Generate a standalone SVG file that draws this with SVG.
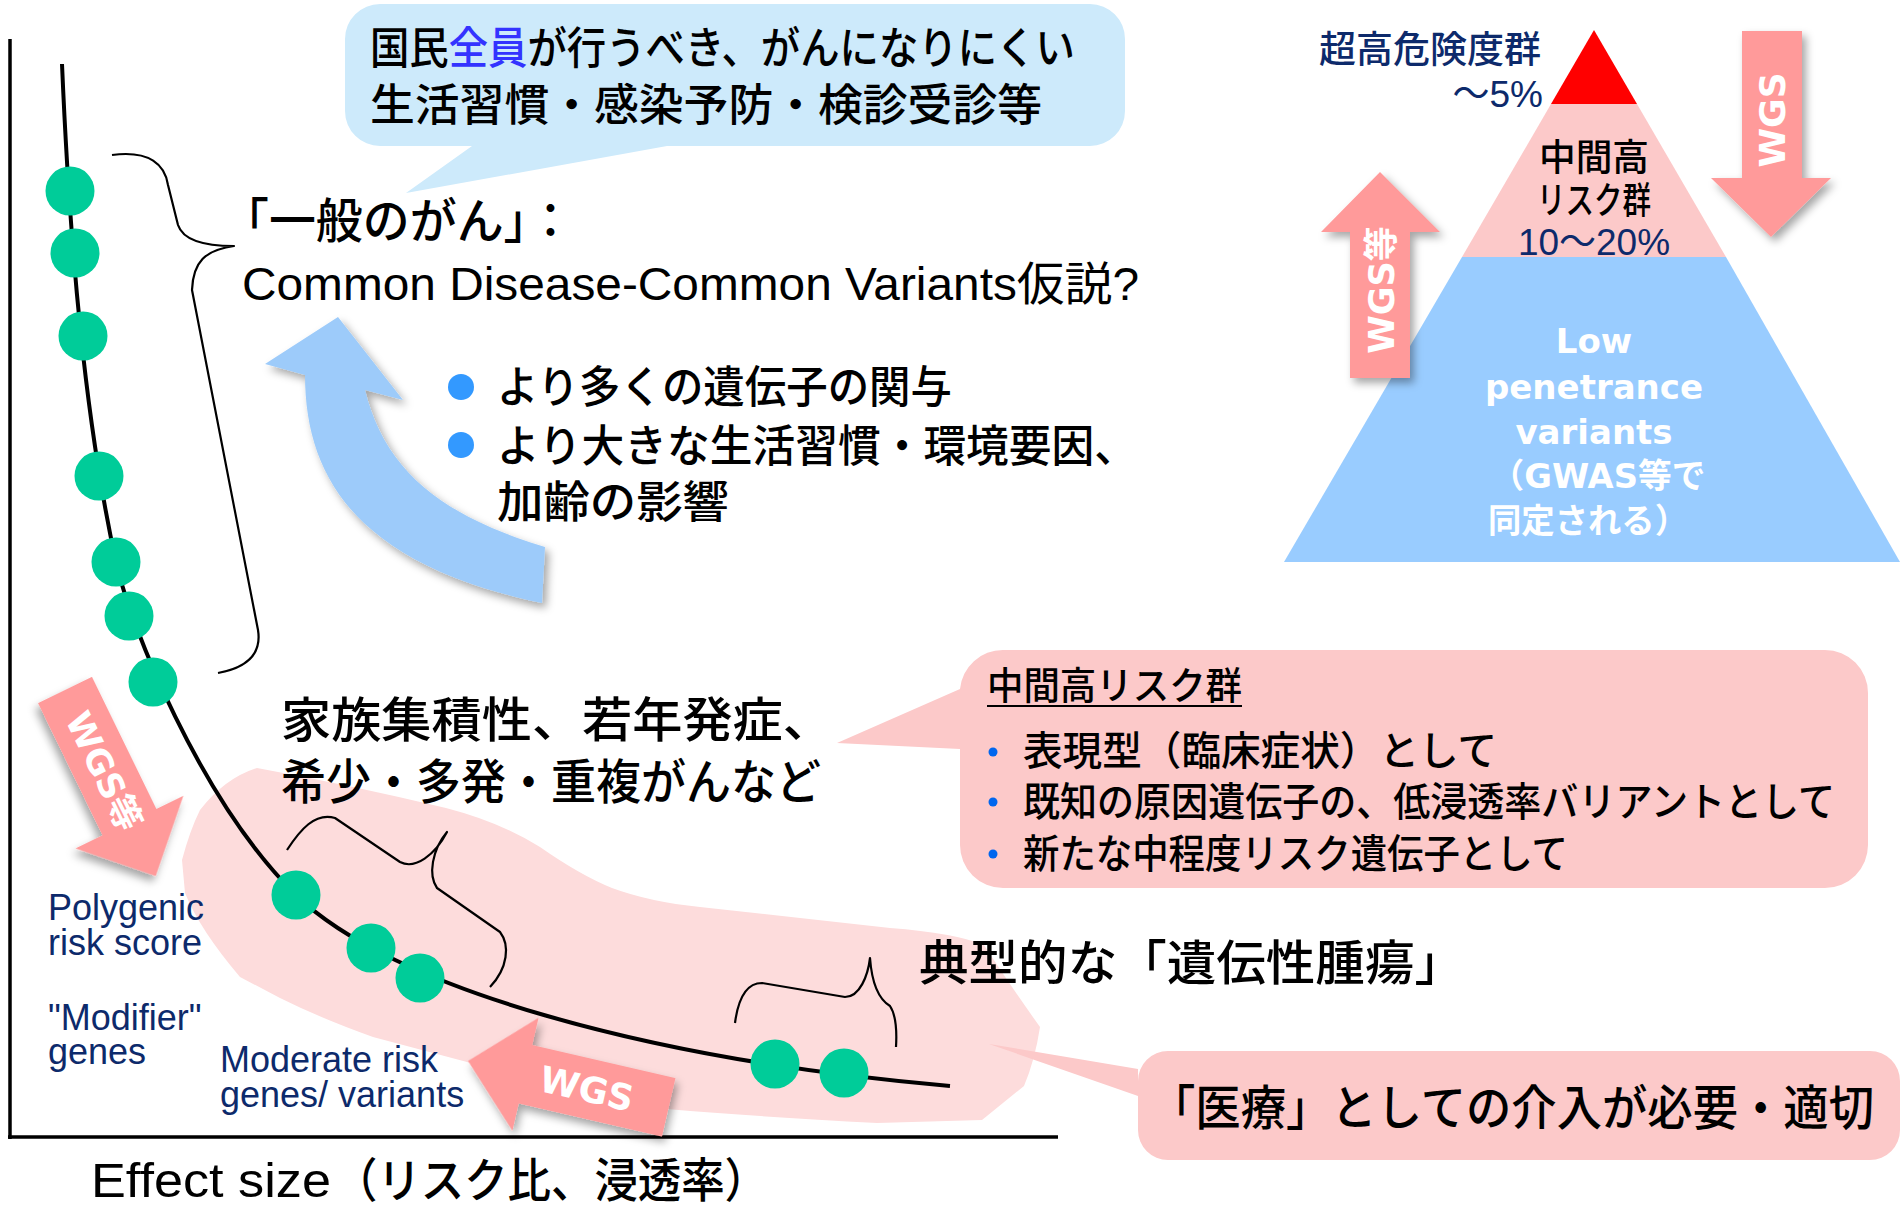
<svg xmlns="http://www.w3.org/2000/svg" width="1902" height="1205" viewBox="0 0 1902 1205">
<defs>
<style>
text{font-family:'Noto Sans CJK JP',sans-serif;fill:#000;font-weight:500}
.lat{font-family:'Liberation Sans','Noto Sans CJK JP',sans-serif;font-weight:normal}
.wb{font-family:'DejaVu Sans','Noto Sans CJK JP',sans-serif;font-weight:bold;fill:#fff}
.navy{fill:#0d2a6b}
.dot{fill:#00cc99}
.pk{fill:#fcc9c9}
.arr{fill:#ff9a9a;filter:url(#sh)}
.brace{fill:none;stroke:#000;stroke-width:2.2;stroke-linejoin:round}
.bl{fill:#3399ff}
.sb{fill:#0066ee}
</style>
<filter id="sh" x="-20%" y="-20%" width="150%" height="150%">
<feDropShadow dx="4" dy="5" stdDeviation="4" flood-color="#000" flood-opacity="0.35"/>
</filter>
</defs>
<rect width="1902" height="1205" fill="#fff"/>

<g id="blob">
<path fill="#fddcdc" d="M257,768 Q350,785 446,808 Q500,822 540,847 Q580,875 612,888 Q650,902 700,907 L890,928 Q955,933 984,945 Q1010,985 1040,1027 Q1035,1060 1024,1086 L982,1120 L877,1123 Q760,1117 667,1109 Q560,1090 467,1062 L373,1037 Q320,1018 280,998 L240,977 Q200,930 185,893 L182,860 Q190,830 200,810 Q225,778 257,768 Z"/>
</g>

<g id="axes" fill="none" stroke="#000" stroke-width="3.5">
<line x1="10" y1="39" x2="10" y2="1139"/>
<line x1="8" y1="1137" x2="1058" y2="1137"/>
</g>

<g id="connectors">
<path id="curve" fill="none" stroke="#000" stroke-width="4" d="M62,64 C70,250 85,420 116,562 C130,625 200,800 295,894 C390,988 650,1060 950,1086"/>
<path class="brace" d="M112,155 C150,150 165,165 168,185 L178,225 C183,240 205,246 234,246 C205,250 193,262 192,290 L258,630 C262,655 245,668 218,673"/>
<path class="brace" d="M287,850 C300,830 315,812 335,818 L400,862 C415,870 435,855 447,832 C432,850 428,875 437,888 L500,932 C510,945 508,968 490,987"/>
<path class="brace" d="M735,1023 C738,1000 745,983 762,983 L845,997 C860,997 868,975 870,958 C872,985 880,1000 890,1006 C896,1015 897,1030 896,1047"/>
</g>

<g id="dots">
<circle class="dot" cx="70" cy="191" r="24.5"/>
<circle class="dot" cx="75" cy="253" r="24.5"/>
<circle class="dot" cx="83" cy="336" r="24.5"/>
<circle class="dot" cx="99" cy="476" r="24.5"/>
<circle class="dot" cx="116" cy="562" r="24.5"/>
<circle class="dot" cx="129" cy="616" r="24.5"/>
<circle class="dot" cx="153" cy="682" r="24.5"/>
<circle class="dot" cx="296" cy="895" r="24.5"/>
<circle class="dot" cx="371" cy="948" r="24.5"/>
<circle class="dot" cx="420" cy="978" r="24.5"/>
<circle class="dot" cx="775" cy="1064" r="24.5"/>
<circle class="dot" cx="844" cy="1073" r="24.5"/>
</g>

<g id="callout-top">
<path fill="#cdeafb" d="M380,4 H1090 A35,35 0 0 1 1125,39 V111 A35,35 0 0 1 1090,146 H667 L406,193 L472,146 H380 A35,35 0 0 1 345,111 V39 A35,35 0 0 1 380,4 Z"/>
<text x="370" y="64" font-size="44" textLength="705" lengthAdjust="spacingAndGlyphs">国民<tspan fill="#3333ff">全員</tspan>が行うべき、がんになりにくい</text>
<text x="370" y="121" font-size="44" textLength="672" lengthAdjust="spacingAndGlyphs">生活習慣・感染予防・検診受診等</text>
</g>

<g id="common-cancer">
<text x="222" y="238" font-size="48" textLength="352" lengthAdjust="spacingAndGlyphs">「一般のがん」：</text>
<text class="lat" x="242" y="300" font-size="46" textLength="897" lengthAdjust="spacingAndGlyphs">Common Disease-Common Variants仮説?</text>
</g>

<g id="blue-arrow">
<path fill="#9dcbfa" filter="url(#sh)" d="M338,317 L403,400 L365,390 C385,470 440,515 545,547 L542,603 C360,565 305,480 305,375 L265,364 Z"/>
</g>

<g id="factors">
<circle class="bl" cx="461" cy="387" r="13"/>
<circle class="bl" cx="461" cy="445" r="13"/>
<text x="497" y="403" font-size="44" textLength="455" lengthAdjust="spacingAndGlyphs">より多くの遺伝子の関与</text>
<text x="497" y="462" font-size="44" textLength="640" lengthAdjust="spacingAndGlyphs">より大きな生活習慣・環境要因、</text>
<text x="497" y="518" font-size="44" textLength="232" lengthAdjust="spacingAndGlyphs">加齢の影響</text>
</g>

<g id="pyramid">
<polygon fill="#ff0000" points="1594,30 1551,104 1637,104"/>
<polygon fill="#fcc9c9" points="1551,104 1637,104 1726,257 1462,257"/>
<polygon fill="#99ccff" points="1462,257 1726,257 1900,562 1284,562"/>
<text class="navy" x="1319" y="63" font-size="37" textLength="222" lengthAdjust="spacingAndGlyphs">超高危険度群</text>
<text class="navy lat" x="1543" y="107" font-size="37" text-anchor="end">～5%</text>
<text x="1594" y="171" font-size="37" text-anchor="middle" textLength="110" lengthAdjust="spacingAndGlyphs">中間高</text>
<text x="1594" y="214" font-size="37" text-anchor="middle" textLength="114" lengthAdjust="spacingAndGlyphs">リスク群</text>
<text class="navy lat" x="1594" y="255" font-size="37" text-anchor="middle">10～20%</text>
<text class="wb" x="1594" y="353" font-size="34" text-anchor="middle">Low</text>
<text class="wb" x="1594" y="399" font-size="34" text-anchor="middle">penetrance</text>
<text class="wb" x="1594" y="444" font-size="34" text-anchor="middle">variants</text>
<text class="wb" x="1598" y="488" font-size="34" text-anchor="middle" textLength="215" lengthAdjust="spacingAndGlyphs">（GWAS等で</text>
<text class="wb" x="1588" y="533" font-size="34" text-anchor="middle" textLength="200" lengthAdjust="spacingAndGlyphs">同定される）</text>
</g>

<g id="wgs-down">
<path class="arr" d="M1742,31 H1802 V178 H1831 L1771,237 L1711,178 H1742 Z"/>
<text class="wb" font-size="36" text-anchor="middle" transform="translate(1772,120) rotate(-90)" y="13">WGS</text>
</g>

<g id="wgs-up">
<path class="arr" d="M1380,172 L1440,232 H1410 V378 H1350 V232 H1321 Z"/>
<text class="wb" font-size="35" text-anchor="middle" transform="translate(1381,290) rotate(-90)" y="13">WGS等</text>
</g>

<g id="wgs-diag">
<g transform="translate(65,690) rotate(64)">
<path class="arr" d="M0,-30 H147 V-60 L207,0 L147,60 V30 H0 Z"/>
<text class="wb" x="90" y="13" font-size="35" text-anchor="middle">WGS等</text>
</g>
</g>

<g id="wgs-left">
<g transform="translate(468,1061) rotate(13)">
<path class="arr" d="M0,0 L59,-58 V-30 H206 V30 H59 V58 Z"/>
<text class="wb" x="122" y="13" font-size="36" text-anchor="middle">WGS</text>
</g>
</g>

<g id="familial">
<text x="281" y="737" font-size="48" textLength="552" lengthAdjust="spacingAndGlyphs">家族集積性、若年発症、</text>
<text x="281" y="799" font-size="48" textLength="540" lengthAdjust="spacingAndGlyphs">希少・多発・重複がんなど</text>
</g>

<g id="callout-mid">
<path class="pk" d="M1003,650 H1825 A43,43 0 0 1 1868,693 V845 A43,43 0 0 1 1825,888 H1003 A43,43 0 0 1 960,845 V749 L837,743 L960,689 A43,43 0 0 1 1003,650 Z"/>
<text x="987" y="699" font-size="38" textLength="255" lengthAdjust="spacingAndGlyphs">中間高リスク群</text>
<line x1="987" y1="706" x2="1242" y2="706" stroke="#000" stroke-width="2"/>
<circle class="sb" cx="993" cy="752" r="4.5"/>
<circle class="sb" cx="993" cy="802" r="4.5"/>
<circle class="sb" cx="993" cy="854" r="4.5"/>
<text x="1023" y="765" font-size="40" textLength="474" lengthAdjust="spacingAndGlyphs">表現型（臨床症状）として</text>
<text x="1023" y="816" font-size="40" textLength="812" lengthAdjust="spacingAndGlyphs">既知の原因遺伝子の、低浸透率バリアントとして</text>
<text x="1023" y="868" font-size="40" textLength="545" lengthAdjust="spacingAndGlyphs">新たな中程度リスク遺伝子として</text>
</g>

<g id="hereditary">
<text x="919" y="980" font-size="48" textLength="545" lengthAdjust="spacingAndGlyphs">典型的な「遺伝性腫瘍」</text>
</g>

<g id="callout-medical">
<path class="pk" d="M1168,1051 H1870 A30,30 0 0 1 1900,1081 V1130 A30,30 0 0 1 1870,1160 H1168 A30,30 0 0 1 1138,1130 V1096 L989,1044 L1138,1069 V1081 A30,30 0 0 1 1168,1051 Z"/>
<text x="1150" y="1125" font-size="48" textLength="724" lengthAdjust="spacingAndGlyphs">「医療」としての介入が必要・適切</text>
</g>

<g id="labels">
<text class="lat navy" x="48" y="920" font-size="36">Polygenic</text>
<text class="lat navy" x="48" y="955" font-size="36">risk score</text>
<text class="lat navy" x="48" y="1030" font-size="36">"Modifier"</text>
<text class="lat navy" x="48" y="1064" font-size="36">genes</text>
<text class="lat navy" x="220" y="1072" font-size="36">Moderate risk</text>
<text class="lat navy" x="220" y="1107" font-size="36">genes/ variants</text>
<text class="lat" x="91" y="1197" font-size="48" textLength="240" lengthAdjust="spacingAndGlyphs">Effect size</text>
<text x="334" y="1197" font-size="47" textLength="434" lengthAdjust="spacingAndGlyphs">（リスク比、浸透率）</text>
</g>
</svg>
